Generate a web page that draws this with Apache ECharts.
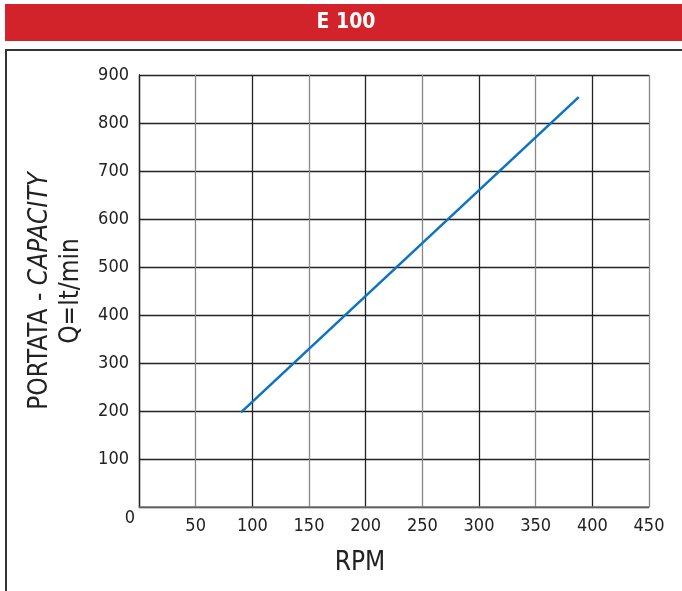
<!DOCTYPE html>
<html>
<head>
<meta charset="utf-8">
<script src="https://cdn.jsdelivr.net/npm/echarts@6/dist/echarts.min.js"></script>
<style>
html,body{margin:0;padding:0;background:#fff;}
#c{width:682px;height:591px;}
</style>
</head>
<body>
<div id="c"></div>
<script>
const titleText = 'E 100';
const xName = 'RPM';
const yNameLine1 = 'PORTATA - ';
const yNameItalic = 'CAPACITY';
const yNameLine2 = 'Q=lt/min';
const rpm = [90, 388];
const capacity = [197, 854];
const xMin = 0, xMax = 450, xStep = 50;
const yMin = 0, yMax = 900, yStep = 100;

const FONT = "'Liberation Sans Narrow', 'DejaVu Sans Condensed', 'Liberation Sans', sans-serif";
const chart = echarts.init(document.getElementById('c'), null, {renderer: 'canvas'});
const data = rpm.map((x, i) => [x, capacity[i]]);

chart.setOption({
  animation: false,
  backgroundColor: '#fff',
  grid: {left: 139, top: 75, right: 33, bottom: 84, containLabel: false},
  xAxis: {
    type: 'value', min: xMin, max: xMax, interval: xStep,
    axisLine: {show: true, lineStyle: {color: '#777', width: 1.5}},
    axisTick: {show: false},
    axisLabel: {
      color: '#222', fontSize: 18, fontFamily: FONT, margin: 10,
      formatter: v => v === 0 ? '' : String(v)
    },
    splitLine: {show: true, lineStyle: {color: ['#222', '#888'], width: 1.3}}
  },
  yAxis: {
    type: 'value', min: yMin, max: yMax, interval: yStep,
    axisLine: {show: true, lineStyle: {color: '#222', width: 1.3}},
    axisTick: {show: false},
    axisLabel: {
      color: '#222', fontSize: 18, fontFamily: FONT, margin: 10,
      formatter: v => v === 0 ? '' : String(v)
    },
    splitLine: {show: true, lineStyle: {color: '#222', width: 1.3}}
  },
  graphic: [
    {type: 'rect', silent: true, z: -1, shape: {x: 6, y: 50, width: 700, height: 600},
     style: {fill: 'none', stroke: '#333', lineWidth: 2}},
    {type: 'rect', silent: true, shape: {x: 5, y: 4, width: 677, height: 37},
     style: {fill: '#d2232a'}},
    {type: 'text', silent: true, x: 346, y: 23,
     style: {text: titleText, fill: '#fff', font: 'bold 21px ' + FONT, textAlign: 'center', textVerticalAlign: 'middle'}},
    {type: 'text', silent: true, x: 360, y: 563,
     style: {text: xName, fill: '#222', font: '26px ' + FONT, textAlign: 'center', textVerticalAlign: 'middle'}},
    {type: 'text', silent: true, x: 130, y: 518,
     style: {text: '0', fill: '#222', font: '18px ' + FONT, textAlign: 'center', textVerticalAlign: 'middle'}},
    {type: 'text', silent: true, x: 40, y: 291, rotation: Math.PI / 2,
     style: {
       text: '{a|' + yNameLine1 + '}{b|' + yNameItalic + '}',
       textAlign: 'center', textVerticalAlign: 'middle',
       rich: {
         a: {fontSize: 26, fontFamily: FONT, fill: '#222', color: '#222'},
         b: {fontSize: 26, fontFamily: FONT, fontStyle: 'italic', fill: '#222', color: '#222'}
       }
     }},
    {type: 'text', silent: true, x: 71, y: 291, rotation: Math.PI / 2,
     style: {text: yNameLine2, fill: '#222', font: '26px ' + FONT, textAlign: 'center', textVerticalAlign: 'middle'}}
  ],
  series: [{
    type: 'line', data: data, showSymbol: false, symbol: 'none',
    lineStyle: {color: '#0b72c4', width: 2.5}, z: 5
  }]
});
</script>
</body>
</html>
